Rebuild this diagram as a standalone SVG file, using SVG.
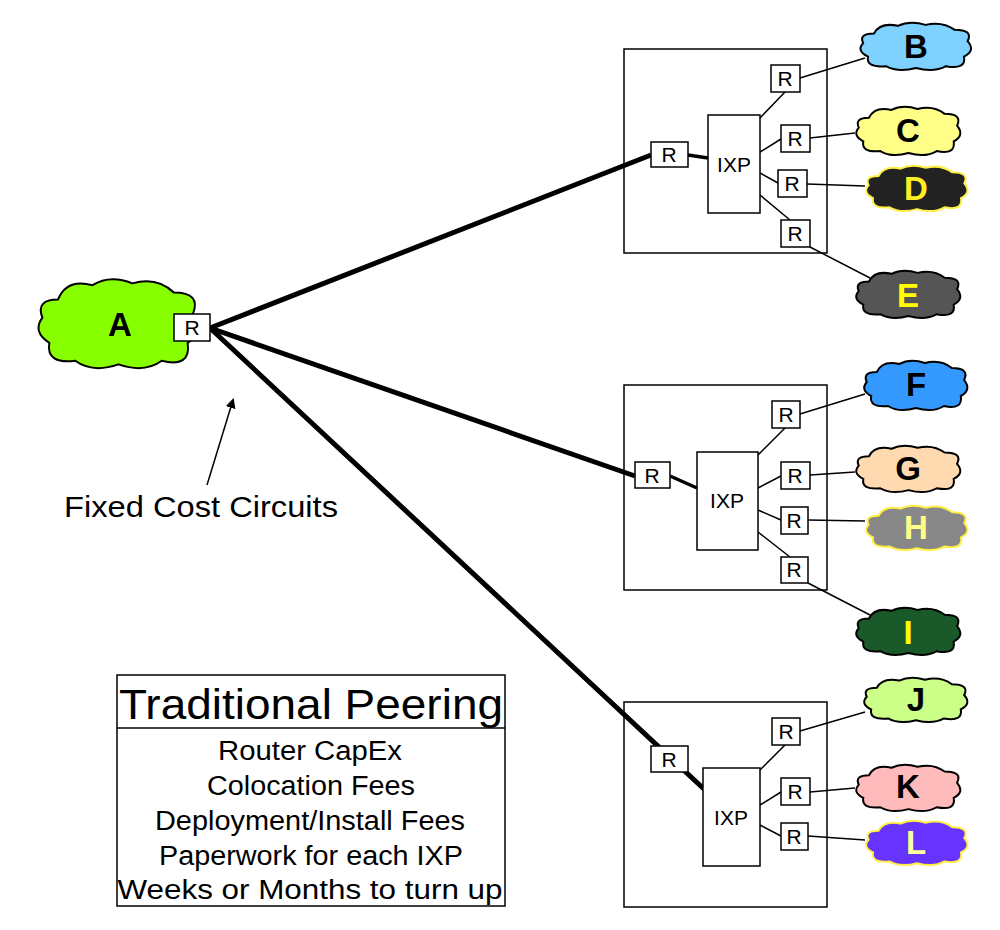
<svg xmlns="http://www.w3.org/2000/svg" xmlns:xlink="http://www.w3.org/1999/xlink" width="1000" height="930" viewBox="0 0 1000 930">
<style>
.cl{stroke:#000;stroke-width:2}
.box{fill:#fff;stroke:#000;stroke-width:1.5}
.rt{font-family:"Liberation Sans",Arial,sans-serif;font-size:21px;text-anchor:middle;fill:#000}
.lb{font-family:"Liberation Sans",Arial,sans-serif;font-size:33px;font-weight:bold;text-anchor:middle}
.tx{font-family:"Liberation Sans",Arial,sans-serif;text-anchor:middle;fill:#000}
.thin{stroke:#000;stroke-width:1.5;fill:none}
.thick{stroke:#000;stroke-width:5;fill:none}
.mid{stroke:#000;stroke-width:3.5;fill:none}
</style>
<defs>
<path id="cloud" vector-effect="non-scaling-stroke" d="M15,12 Q20,0 35,4 Q45,-2 58,3 Q72,-1 82,8 Q98,8 93,20 Q100,30 90,36 Q92,50 75,46 Q65,53 50,48 Q35,53 25,46 Q8,48 10,36 Q0,30 6,22 Q2,12 15,12 Z"/>
<marker id="ah" markerWidth="10" markerHeight="10" refX="8" refY="5" orient="auto" markerUnits="userSpaceOnUse"><path d="M0,0 L10,5 L0,10 Z" fill="#000"/></marker>
</defs>
<rect width="1000" height="930" fill="#fff"/>
<g id="frames">
<rect class="box" x="624" y="49" width="203" height="204"/>
<rect class="box" x="624" y="385" width="203" height="205"/>
<rect class="box" x="624" y="702" width="203" height="205"/>
</g>
<g id="connectors">
<path class="thick" d="M210,328 L651,155 M210,328 L635,476 M210,328 L705,790"/>
<path class="mid" d="M688,155 L708,158 M670,476 L697,488"/>
<path class="thin" d="M760,118 L785,92 M760,152 L781,139 M760,173 L778,183 M760,195 L790,220 M800,78 L865,58 M810,138 L855,133 M807,184 L865,186 M810,247 L870,278"/>
<path class="thin" d="M758,455 L785,428 M758,488 L781,476 M758,510 L781,520 M758,532 L790,557 M800,414 L865,394 M810,475 L855,472 M808,520 L865,521 M808,583 L870,615"/>
<path class="thin" d="M760,770 L785,745 M760,805 L781,792 M760,825 L781,836 M800,731 L865,712 M810,792 L855,788 M808,836 L865,840"/>
<path class="thin" d="M207,485 L233,400" marker-end="url(#ah)"/>
</g>
<g id="A"><use xlink:href="#cloud" class="cl" fill="#88ff00" transform="translate(32,278) scale(1.73,1.8)"/><text class="lb" x="120" y="336" fill="#000">A</text>
<rect class="box" x="174" y="314" width="36" height="27"/><text class="rt" x="192" y="335">R</text></g>
<g id="B"><use xlink:href="#cloud" class="cl" fill="#7fd1ff" transform="translate(856,22) scale(1.2,0.96)"/><text class="lb" x="916" y="58" fill="#000">B</text></g>
<g id="C"><use xlink:href="#cloud" class="cl" fill="#ffff88" transform="translate(852,106) scale(1.13,0.98)"/><text class="lb" x="908" y="142" fill="#000">C</text></g>
<g id="D"><use xlink:href="#cloud" fill="#222" stroke="#ffee44" stroke-width="2" transform="translate(862,165) scale(1.1,0.92)"/><text class="lb" x="916" y="200" fill="#ffee22">D</text></g>
<g id="E"><use xlink:href="#cloud" class="cl" fill="#555" transform="translate(852,270) scale(1.13,0.96)"/><text class="lb" x="908" y="307" fill="#ffff00">E</text></g>
<g id="F"><use xlink:href="#cloud" class="cl" fill="#3399ff" transform="translate(860,360) scale(1.12,1)"/><text class="lb" x="916" y="396" fill="#000">F</text></g>
<g id="G"><use xlink:href="#cloud" class="cl" fill="#ffd9b0" transform="translate(852,445) scale(1.13,0.94)"/><text class="lb" x="908" y="480" fill="#000">G</text></g>
<g id="H"><use xlink:href="#cloud" fill="#888" stroke="#ffee44" stroke-width="2" transform="translate(862,505) scale(1.1,0.9)"/><text class="lb" x="916" y="539" fill="#ffff88">H</text></g>
<g id="I"><use xlink:href="#cloud" class="cl" fill="#1a5a2a" transform="translate(852,607) scale(1.13,0.96)"/><text class="lb" x="908" y="644" fill="#ffff00">I</text></g>
<g id="J"><use xlink:href="#cloud" class="cl" fill="#ccff88" transform="translate(860,677) scale(1.12,0.9)"/><text class="lb" x="916" y="711" fill="#000">J</text></g>
<g id="K"><use xlink:href="#cloud" class="cl" fill="#ffbbbb" transform="translate(852,764) scale(1.13,0.94)"/><text class="lb" x="908" y="798" fill="#000">K</text></g>
<g id="L"><use xlink:href="#cloud" fill="#6633ff" stroke="#ffee44" stroke-width="2" transform="translate(862,820) scale(1.1,0.9)"/><text class="lb" x="916" y="854" fill="#ffff99">L</text></g>
<g id="ixp1">
<rect class="box" x="708" y="115" width="52" height="98"/><text class="rt" x="734" y="172" font-size="17">IXP</text>
<rect class="box" x="651" y="142" width="37" height="25"/><text class="rt" x="669" y="162">R</text>
<rect class="box" x="771" y="65" width="29" height="27"/><text class="rt" x="785" y="86">R</text>
<rect class="box" x="781" y="125" width="29" height="27"/><text class="rt" x="795" y="146">R</text>
<rect class="box" x="778" y="170" width="29" height="27"/><text class="rt" x="792" y="191">R</text>
<rect class="box" x="781" y="220" width="29" height="27"/><text class="rt" x="795" y="241">R</text>
</g>
<g id="ixp2">
<rect class="box" x="697" y="452" width="61" height="98"/><text class="rt" x="727" y="508" font-size="20">IXP</text>
<rect class="box" x="635" y="462" width="35" height="26"/><text class="rt" x="652" y="483">R</text>
<rect class="box" x="772" y="401" width="28" height="27"/><text class="rt" x="786" y="422">R</text>
<rect class="box" x="781" y="462" width="29" height="27"/><text class="rt" x="795" y="483">R</text>
<rect class="box" x="781" y="507" width="27" height="27"/><text class="rt" x="794" y="528">R</text>
<rect class="box" x="781" y="557" width="27" height="26"/><text class="rt" x="794" y="577">R</text>
</g>
<g id="ixp3">
<rect class="box" x="703" y="768" width="57" height="98"/><text class="rt" x="731" y="825" font-size="20">IXP</text>
<rect class="box" x="651" y="746" width="37" height="26"/><text class="rt" x="669" y="767">R</text>
<rect class="box" x="772" y="718" width="28" height="27"/><text class="rt" x="786" y="739">R</text>
<rect class="box" x="781" y="778" width="29" height="27"/><text class="rt" x="795" y="799">R</text>
<rect class="box" x="781" y="823" width="27" height="27"/><text class="rt" x="794" y="844">R</text>
</g>
<g id="fixed"><text class="tx" x="201" y="517" font-size="29" textLength="274" lengthAdjust="spacingAndGlyphs">Fixed Cost Circuits</text></g>
<g id="legend">
<rect class="box" x="117" y="675" width="388" height="231"/>
<line class="thin" x1="117" y1="728" x2="505" y2="728"/>
<text class="tx" x="311" y="719" font-size="43" textLength="384" lengthAdjust="spacingAndGlyphs">Traditional Peering</text>
<text class="tx" x="310" y="760" font-size="27" textLength="184" lengthAdjust="spacingAndGlyphs">Router CapEx</text>
<text class="tx" x="311" y="795" font-size="27" textLength="208" lengthAdjust="spacingAndGlyphs">Colocation Fees</text>
<text class="tx" x="310" y="830" font-size="27" textLength="310" lengthAdjust="spacingAndGlyphs">Deployment/Install Fees</text>
<text class="tx" x="311" y="865" font-size="27" textLength="304" lengthAdjust="spacingAndGlyphs">Paperwork for each IXP</text>
<text class="tx" x="310" y="899" font-size="27" textLength="385" lengthAdjust="spacingAndGlyphs">Weeks or Months to turn up</text>
</g>
</svg>
